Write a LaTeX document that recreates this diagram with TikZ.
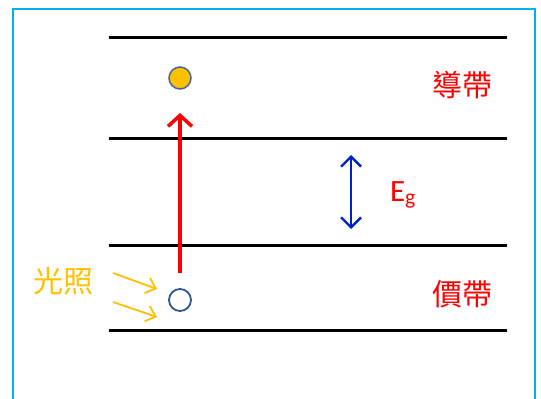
\documentclass[tikz,border=0pt]{standalone}
\usepackage{fontspec}
\setmainfont{Carlito}
\newfontfamily\cjk{Noto Sans CJK TC}
\usetikzlibrary{arrows.meta}
\definecolor{frame}{RGB}{0,176,240}
\definecolor{lightorange}{RGB}{255,192,0}
\definecolor{circedge}{RGB}{65,105,155}
\definecolor{holeedge}{RGB}{47,85,151}
\definecolor{gapblue}{RGB}{0,32,200}
\begin{document}
\begin{tikzpicture}[x=1pt,y=-1pt,
  level/.style={line width=3pt,black},
  bandlabel/.style={text=red,font=\cjk\fontsize{30}{33}\selectfont,inner sep=0pt},
  lightarrow/.style={lightorange,line width=1.8pt,-{Straight Barb[length=9pt,width=16pt,line width=1.8pt]}}]
\useasboundingbox (0,0) rectangle (541,399);
\draw[frame,line width=2.5pt] (13,420) -- (13,9) -- (535,9) -- (535,420);
% levels
\coordinate (l1a) at (109,37); \coordinate (l1b) at (507,37);
\coordinate (l2a) at (109,138); \coordinate (l2b) at (507,138);
\coordinate (l3a) at (109,245); \coordinate (l3b) at (507,245);
\coordinate (l4a) at (109,330); \coordinate (l4b) at (507,330);
\draw[level] (l1a) -- (l1b);
\draw[level] (l2a) -- (l2b);
\draw[level] (l3a) -- (l3b);
\draw[level] (l4a) -- (l4b);
% electron and hole
\node[circle,draw=circedge,fill=lightorange,line width=1.5pt,minimum size=22pt,inner sep=0pt] (e) at (180,78) {};
\node[circle,draw=holeedge,line width=1.8pt,minimum size=22pt,inner sep=0pt] (h) at (180,300) {};
\coordinate (rs) at (180,273);
\coordinate (rt) at (180,113);
\draw[red,line width=3.5pt,-{Straight Barb[length=11pt,width=24pt,line width=3.5pt]}] (rs) -- (rt);
% gap arrow
\coordinate (gt) at (351,155);
\coordinate (gb) at (351,229);
\draw[gapblue,line width=2.4pt,{Straight Barb[length=10pt,width=20pt,line width=2.4pt]}-{Straight Barb[length=10pt,width=20pt,line width=2.4pt]}] (gt) -- (gb);
\node[text=red,font=\fontsize{31}{34}\selectfont,inner sep=0pt] (eg) at (403,195) {E\textsubscript{g}};
% labels
\node[bandlabel] (cb) at (462,85) {導帶};
\node[bandlabel] (vb) at (462,294) {價帶};
\node[text=lightorange,font=\cjk\fontsize{30}{33}\selectfont,inner sep=0pt] (light) at (63,281) {光照};
% light arrows
\coordinate (a1s) at (113,273); \coordinate (a1e) at (157,289);
\coordinate (a2s) at (113,302); \coordinate (a2e) at (157,317);
\draw[lightarrow] (a1s) -- (a1e);
\draw[lightarrow] (a2s) -- (a2e);
\end{tikzpicture}
\end{document}
